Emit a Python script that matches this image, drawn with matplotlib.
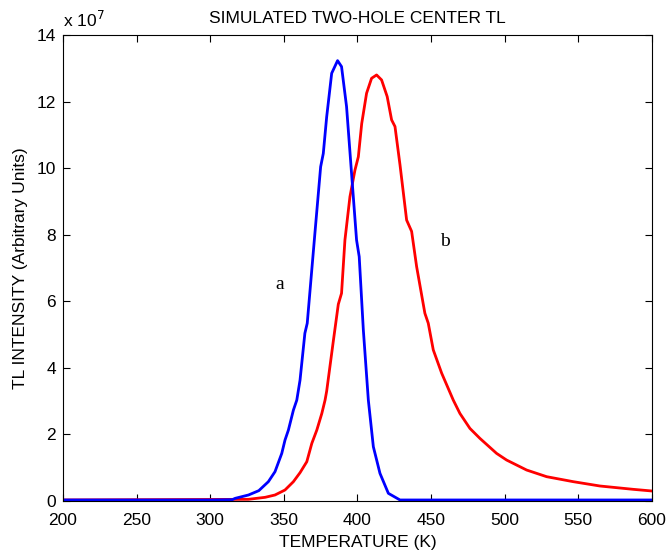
import numpy as np
import matplotlib.pyplot as plt

plt.rcParams['font.family'] = ['Liberation Sans', 'DejaVu Sans']

# curve a (blue), intensity in units of 1e7
temp_a = [200, 300, 315, 317, 326, 333, 339.5, 344, 348.6, 350.8, 353.1, 356.5,
          358.8, 361, 364.3, 365.9, 371.1, 375, 376.8, 379.1, 382.5, 386.5,
          389.2, 392.6, 396, 399.4, 401.2, 404, 407.4, 410.8, 415.3, 421,
          428.9, 600]
tl_a = [0.03, 0.03, 0.04, 0.08, 0.18, 0.31, 0.58, 0.88, 1.43, 1.83, 2.13, 2.73,
        3.03, 3.63, 5.04, 5.34, 8.04, 10.04, 10.44, 11.54, 12.85, 13.23,
        13.05, 11.85, 9.84, 7.84, 7.34, 5.14, 3.03, 1.63, 0.83, 0.23,
        0.03, 0.03]

# curve b (red)
temp_b = [200, 326, 337.3, 344, 350.8, 356.5, 361, 365.6, 369, 372.4, 375.8,
          378, 379.1, 383.6, 387, 389.2, 391.5, 394.9, 398.3, 400.6, 402.9,
          406.2, 409.6, 413, 416.4, 420.2, 423.2, 425.5, 428.9, 433.4, 436.8,
          440.2, 445.8, 448.1, 451.5, 457.2, 465.1, 469.6, 476.4, 483.2,
          494.5, 501.3, 514.9, 528.5, 546.6, 564.7, 587.3, 600]
tl_b = [0.03, 0.05, 0.11, 0.18, 0.33, 0.58, 0.85, 1.18, 1.73, 2.13, 2.63,
        3.03, 3.3, 4.8, 5.91, 6.24, 7.84, 9.14, 9.94, 10.34, 11.34,
        12.25, 12.7, 12.8, 12.65, 12.15, 11.45, 11.25, 10.1, 8.44, 8.1,
        7.04, 5.64, 5.34, 4.54, 3.84, 3.03, 2.63, 2.18, 1.88,
        1.43, 1.23, 0.93, 0.73, 0.58, 0.45, 0.35, 0.3]

xticks = np.arange(200, 601, 50)
yticks = np.arange(0, 15, 2)

fig = plt.figure(figsize=(6.7, 5.54), dpi=100)
ax = fig.add_axes([0.094, 0.0957, 0.879, 0.8411])

ax.plot(temp_b, tl_b, color='red', lw=2)
ax.plot(temp_a, tl_a, color='blue', lw=2)

ax.set_xlim(200, 600)
ax.set_ylim(0, 14)
ax.set_xticks(xticks)
ax.set_yticks(yticks)
ax.tick_params(direction='in', top=True, right=True, length=5, labelsize=12.5)
ax.tick_params(axis='x', pad=9)
ax.tick_params(axis='y', pad=5)

ax.set_title('SIMULATED TWO-HOLE CENTER TL', fontsize=12.5, pad=9)
ax.set_xlabel('TEMPERATURE (K)', fontsize=12.5, labelpad=5)
ax.set_ylabel('TL INTENSITY (Arbitrary Units)', fontsize=12.5, labelpad=6)
ax.text(0.0, 1.01, 'x 10$^{7}$', transform=ax.transAxes, fontsize=12.5,
        ha='left', va='bottom')

# curve labels
ax.text(347.5, 6.5, 'a', family=['Liberation Serif'], fontsize=14, ha='center', va='center')
ax.text(459.5, 7.8, 'b', family=['Liberation Serif'], fontsize=14, ha='center', va='center')

fig.savefig('out.png', dpi=100)
